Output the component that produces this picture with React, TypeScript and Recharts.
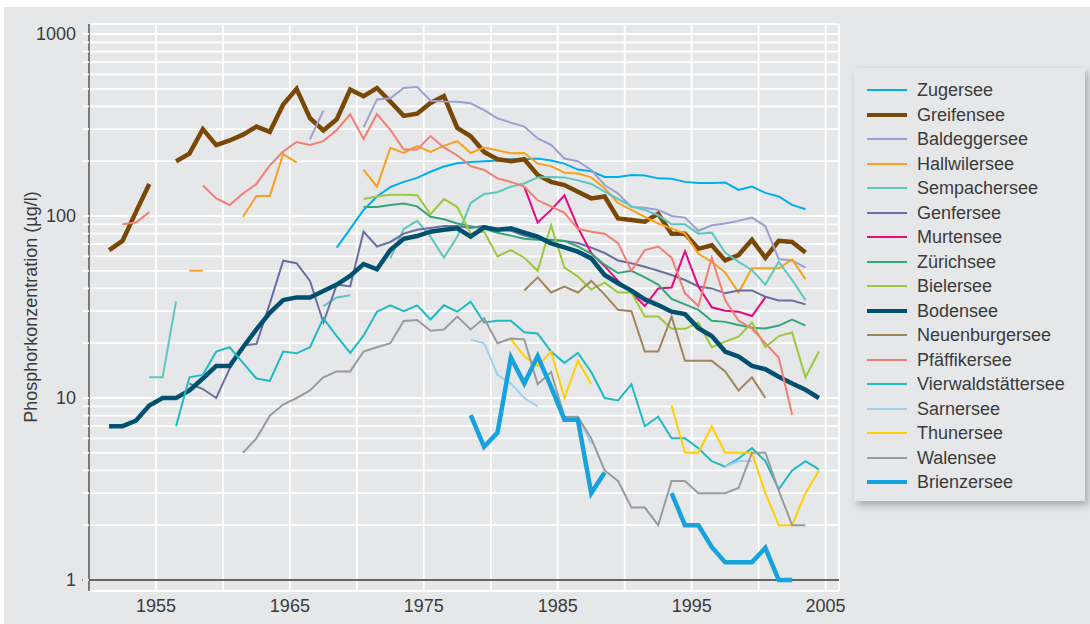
import React from 'react';
import { LineChart, Line, XAxis, YAxis, CartesianGrid, ReferenceLine, Legend } from 'recharts';

// Phosphorus concentration (µg/l), annual values
const yearFirst = 1951;
const yearLast = 2004;

const zugersee = [67, 85, 108, 128, 144, 154, 162, 175, 187, 195, 198, 200, 202, 205, 205, 207, 202, 194, 180, 176, 164, 164, 168, 167, 161, 160, 154, 152, 152, 153, 139, 145, 134, 128, 115, 109];
const greifensee = [65, 73, 105, 150, null, 200, 220, 300, 245, 260, 280, 310, 290, 410, 500, 345, 295, 340, 495, 455, 505, 425, 355, 365, 418, 456, 305, 274, 225, 205, 200, 205, 168, 154, 148, 136, 125, 128, 97, 95, 93, 103, 80, 80, 66, 69, 57, 61, 74, 59, 73, 72, 63];
const baldeggersee = [264, 379, null, null, 307, 437, 443, 505, 512, 430, 426, 425, 416, 382, 344, 326, 310, 267, 246, 207, 200, 179, 148, 133, 112, 111, 108, 100, 98, 83, 89, 91, 94, 98, 88, 58, 57, 52];
const hallwilersee = [50, 50, null, null, 99, 129, 129, 219, 197, null, null, null, null, 180, 145, 237, 222, 242, 225, 243, 258, 222, 238, 230, 221, 222, 194, 188, 173, 171, 163, 142, 118, 108, 99, 91, 85.5, 80, 62, 56, 49, 38, 51.6, 51.6, 51.6, 57.8, 45];
const sempachersee = [13, 13, 34, null, null, null, null, null, null, null, null, null, null, 32, 35.7, 36.7, null, null, 58.6, 85, 94, 77, 59, 77, 118, 132, 135, 145, 151, 163, 164, 163, 157, 150, 136, 124, 113, 108, 101, 90, 90, 80, 81, 63, 56, 50.5, 42, 56, 44.5, 34.5];
const genfersee = [12, 11.2, 10, 14.5, 19.4, 19.8, 33, 56.8, 55, 44, 26, 42, 41, 82, 68, 72, 80, 84, 86, 88, 88, 86, 88.5, 84, 83, 78, 75, 73.5, 73, 71, 67, 62.6, 57, 55, 52.6, 50, 47.4, 44.5, 41, 40, 37.6, 39, 39, 36, 34.3, 34.3, 32.7];
const murtensee = [145, 92, 108, 130, 86.6, 62.6, 53, 44, 38, 32, 40, 40.5, 64, 41, 31.5, 30.2, 29.8, 28.2, 35.7];
const zuerichsee = [112, 112, 115, 117, 113, 99, 96, 91, 88, 85, 81, 78, 75, 74, 74, 73, 68, 62, 54, 48.6, 50, 46, 42, 35, 32.7, 30.5, 26.6, 26.2, 25.2, 24.3, 24.1, 25, 27, 25];
const bielersee = [124, 128, 131, 131, 130, 102, 124, 112, 80, 82, 60, 65, 59, 50, 89, 52, 46.5, 39.5, 43, 38, 38, 28, 28, 24, 24, 26, 19, 20.4, 21.7, 26, 19, 21.9, 22.9, 13, 18];
const bodensee = [7, 7, 7.5, 9.1, 10, 10, 11, 12.8, 15, 15, 19, 23.8, 29.4, 34.5, 35.7, 35.7, 38.7, 42, 46.8, 54.5, 51, 65, 75, 77.6, 82, 84, 85.5, 77, 86.7, 84, 85.5, 81, 77, 70.8, 67.3, 63.7, 58.5, 47.4, 42.7, 38.9, 34.8, 32.4, 29.8, 28.9, 24.2, 21.9, 18, 16.9, 15, 14.4, 13.1, 12, 11.1, 10];
const neuenburgersee = [39, 46, 38, 41, 38, 44, 37, 30.5, 30, 18, 18, 28, 16, 16, 16, 14, 11, 13, 10];
const pfaeffikersee = [90, 92, 105, null, null, null, 147, 125, 115, 133, 150, 190, 226, 255, 246, 258, 297, 362, 265, 363, 297, 232, 232, 275, 238, 215, 188, 179, 161, 154, 145, 122, 113, 104, 85, 82, 80, 71, 50, 65, 68, 59, 37.6, 32, 59, 34.5, 26.6, 24.1, 20, 16.7, 8.1];
const vierwaldstaettersee = [7, 13, 13.4, 18, 19, 15.6, 12.8, 12.4, 18, 17.6, 19, 27.4, 21.9, 17.7, 22, 29.8, 32.3, 30, 32.3, 27, 32.3, 29.8, 33.8, 26, 26.6, 26.6, 23, 22.6, 18, 15.6, 17.7, 13.9, 10, 9.7, 11.9, 7, 7.9, 6, 6, 5.3, 4.5, 4.2, 4.65, 5.3, 4.5, 3.15, 4, 4.5, 4.05];
const sarnersee = [21, 20, 13.4, 12, 10, 9, null, null, 7.9, 5.6, null, null, null, null, null, null, null, null, null, 4.2, 4.5, 4.5];
const thunersee = [21, 17, 15, 18, 10, 16, 11.9, null, null, null, null, null, 9.1, 5, 5, 7, 5, 5, 5, 3, 2, 2, 3, 4];
const walensee = [5, 6, 8, 9.2, 10, 11, 13, 14, 14, 18, 19, 20, 26.5, 26.8, 23.4, 23.8, 28, 23.8, 27.4, 20, 21.2, 21, 11.9, 13.9, 7.9, 7.9, 6, 4, 3.5, 2.5, 2.5, 2, 3.5, 3.5, 3, 3, 3, 3.2, 5, 5, 3.1, 2, 2];
const brienzersee = [8.05, 5.4, 6.45, 16.7, 12, 17, 11.5, 7.6, 7.6, 3, 3.9, null, null, null, null, 3, 2, 2, 1.52, 1.25, 1.25, 1.25, 1.5, 1, 1];

// grid every 5 years, labels every 10
const xTicks = [1955, 1960, 1965, 1970, 1975, 1980, 1985, 1990, 1995, 2000, 2005];
const xLabels = [1955, 1965, 1975, 1985, 1995, 2005];
const decades = [1, 10, 100, 1000];

const lakes = [
    { key: 'zug', name: 'Zugersee', from: 1968, values: zugersee, color: '#00aeef', width: 2 },
    { key: 'greifen', name: 'Greifensee', from: 1951, values: greifensee, color: '#7a4806', width: 4.5 },
    { key: 'baldegg', name: 'Baldeggersee', from: 1966, values: baldeggersee, color: '#9d9fd2', width: 2 },
    { key: 'hallwil', name: 'Hallwilersee', from: 1957, values: hallwilersee, color: '#f7a21d', width: 2 },
    { key: 'sempach', name: 'Sempachersee', from: 1954, values: sempachersee, color: '#5cc7bf', width: 2 },
    { key: 'genf', name: 'Genfersee', from: 1957, values: genfersee, color: '#6a6fa1', width: 2 },
    { key: 'murten', name: 'Murtensee', from: 1982, values: murtensee, color: '#e6097f', width: 2 },
    { key: 'zuerich', name: 'Zürichsee', from: 1970, values: zuerichsee, color: '#35a67a', width: 2 },
    { key: 'biel', name: 'Bielersee', from: 1970, values: bielersee, color: '#9bc93c', width: 2 },
    { key: 'boden', name: 'Bodensee', from: 1951, values: bodensee, color: '#00506f', width: 4.5 },
    { key: 'neuenburg', name: 'Neuenburgersee', from: 1982, values: neuenburgersee, color: '#a1845a', width: 2 },
    { key: 'pfaeffik', name: 'Pfäffikersee', from: 1952, values: pfaeffikersee, color: '#f37f72', width: 2 },
    { key: 'vierwald', name: 'Vierwaldstättersee', from: 1956, values: vierwaldstaettersee, color: '#1fbac3', width: 2 },
    { key: 'sarnen', name: 'Sarnersee', from: 1978, values: sarnersee, color: '#9fd1ef', width: 2 },
    { key: 'thun', name: 'Thunersee', from: 1981, values: thunersee, color: '#ffd000', width: 2 },
    { key: 'walen', name: 'Walensee', from: 1961, values: walensee, color: '#999a9c', width: 2 },
    { key: 'brienz', name: 'Brienzersee', from: 1978, values: brienzersee, color: '#16a2dc', width: 4.5 },
];

// minor log grid: 1..9, 10..90, 100..900, 1000
const yTicks: number[] = [];
[1, 10, 100].forEach((d) => {
    for (let m = 1; m < 10; m++) yTicks.push(m * d);
});
yTicks.push(1000);

// one row per year, points sit in the middle of the year
const data: any[] = [];
for (let y = yearFirst; y <= yearLast; y++) {
    const row: any = { x: y + 0.5 };
    lakes.forEach((l) => {
        const v = l.values[y - l.from];
        row[l.key] = v === undefined ? null : v;
    });
    data.push(row);
}

const textColor = '#3b3b3b';
const bg = '#e6e7e9';

const LegendBox = () => (
    <div
        style={{
            width: 231,
            background: bg,
            boxShadow: '3px 4px 8px rgba(0,0,0,0.28)',
            padding: '10px 0 6px 0',
            boxSizing: 'border-box',
        }}
    >
        {lakes.map((l) => (
            <div key={l.key} style={{ display: 'flex', alignItems: 'center', height: 24.5 }}>
                <svg width={40} height={8} style={{ marginLeft: 13, marginRight: 10 }}>
                    <line x1={0} y1={4} x2={40} y2={4} stroke={l.color} strokeWidth={l.width === 2 ? 2 : 4} strokeLinecap="round" />
                </svg>
                <span style={{ fontSize: 18, color: textColor, lineHeight: '24px' }}>{l.name}</span>
            </div>
        ))}
    </div>
);

export default function App() {
    return (
        <div style={{ position: 'absolute', left: 0, top: 0, width: 1090, height: 624, background: '#fff', fontFamily: '"Liberation Sans", Arial, sans-serif' }}>
            <div style={{ position: 'absolute', left: 4, top: 7, right: 0, bottom: 0, background: bg }} />
            <div
                style={{
                    position: 'absolute',
                    left: 31,
                    top: 307,
                    transform: 'translate(-50%, -50%) rotate(-90deg)',
                    whiteSpace: 'nowrap',
                    fontSize: 18,
                    color: textColor,
                }}
            >
                Phosphorkonzentration (µg/l)
            </div>
            <div style={{ position: 'absolute', left: 0, top: 0 }}>
                <LineChart width={1090} height={624} data={data} margin={{ top: 24, right: 251, bottom: 3, left: 29 }}>
                    <CartesianGrid stroke="#ffffff" strokeWidth={1.8} />
                    <XAxis
                        type="number"
                        dataKey="x"
                        domain={[1950, 2006]}
                        ticks={xTicks}
                        height={30}
                        axisLine={false}
                        tickLine={false}
                        tickSize={6}
                        tickMargin={2}
                        interval={0}
                        tick={{ fontSize: 18, fill: textColor }}
                        tickFormatter={(v: number) => (xLabels.includes(v) ? String(v) : '')}
                    />
                    <YAxis
                        scale="log"
                        domain={[0.87, 1135]}
                        allowDataOverflow
                        ticks={yTicks}
                        interval={0}
                        width={60}
                        axisLine={{ stroke: '#333', strokeWidth: 1.3 }}
                        tickLine={{ stroke: '#ffffff', strokeWidth: 1.8 }}
                        tickSize={6}
                        tickMargin={7}
                        tick={{ fontSize: 18, fill: textColor }}
                        tickFormatter={(v: number) => (decades.includes(v) ? String(v) : '')}
                    />
                    <ReferenceLine
                        segment={[{ x: 1949.5, y: 1 }, { x: 2006, y: 1 }]}
                        stroke="#333"
                        strokeWidth={1.3}
                        ifOverflow="visible"
                    />
                    {lakes.map((l) => (
                        <Line
                            key={l.key}
                            type="linear"
                            dataKey={l.key}
                            name={l.name}
                            stroke={l.color}
                            strokeWidth={l.width}
                            dot={false}
                            activeDot={false}
                            connectNulls={false}
                            isAnimationActive={false}
                        />
                    ))}
                    <Legend
                        layout="vertical"
                        align="center"
                        verticalAlign="middle"
                        content={() => <LegendBox />}
                        wrapperStyle={{ left: 854, top: 68, width: 231 }}
                    />
                </LineChart>
            </div>
        </div>
    );
}
